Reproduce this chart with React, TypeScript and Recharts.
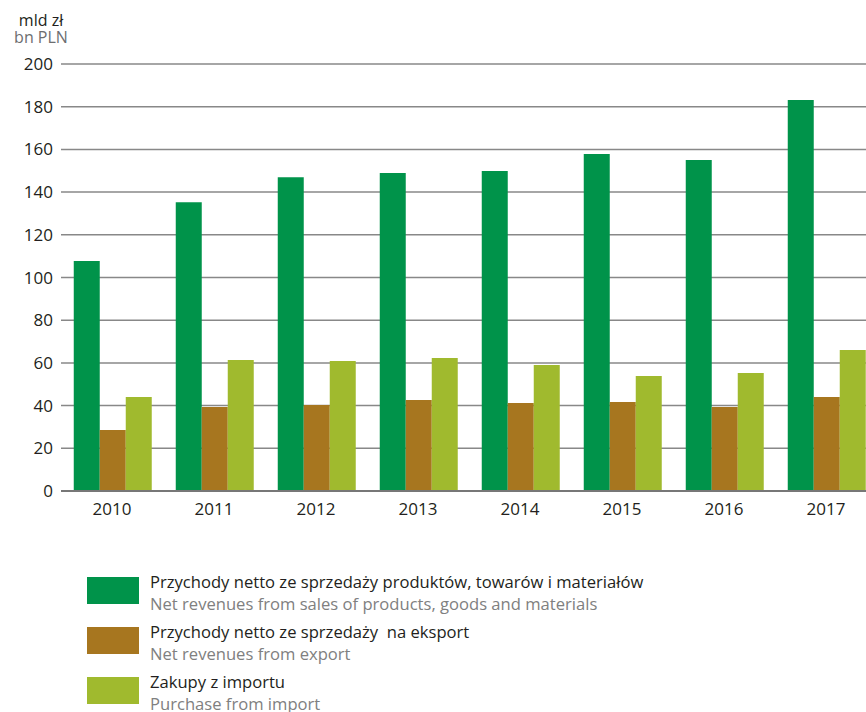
import React from "react";
import {BarChart, Bar, CartesianGrid, XAxis, YAxis} from "recharts";

const years = ["2010", "2011", "2012", "2013", "2014", "2015", "2016", "2017"];
const netRevenues = [107.7, 135.3, 147, 149, 149.9, 157.8, 155, 183.1];
const exportRevenues = [28.6, 39.3, 40.3, 42.6, 41.2, 41.7, 39.3, 44];
const importPurchases = [44, 61.4, 60.9, 62.3, 59, 53.9, 55.3, 66];
const yTicks = [0, 20, 40, 60, 80, 100, 120, 140, 160, 180, 200];

const seriesNames = [
    {key: "net", pl: "Przychody netto ze sprzedaży produktów, towarów i materiałów", en: "Net revenues from sales of products, goods and materials", color: "#00934a"},
    {key: "exp", pl: "Przychody netto ze sprzedaży  na eksport", en: "Net revenues from export", color: "#a7761f"},
    {key: "imp", pl: "Zakupy z importu", en: "Purchase from import", color: "#a0ba2e"},
];

const data = years.map((year, i) => ({
    year,
    net: netRevenues[i],
    exp: exportRevenues[i],
    imp: importPurchases[i],
}));

const font = "'Open Sans', sans-serif";

export default function App() {
    return (
        <div style={{position: "fixed", left: 0, top: 0, width: 866, height: 712, overflow: "hidden", background: "#fff", fontFamily: font}}>
            {/* unit title, two lines */}
            <div style={{position: "absolute", left: 0, top: 12, width: 82, height: 17, textAlign: "center", fontSize: 16, lineHeight: "17px", color: "#231f20"}}>mld zł</div>
            <div style={{position: "absolute", left: 0, top: 29, width: 82, height: 17, textAlign: "center", fontSize: 16, lineHeight: "17px", color: "#6d6e70"}}>bn PLN</div>
            <div style={{position: "absolute", left: 0, top: 0}}>
                <BarChart width={878} height={540} data={data} barGap={0} barCategoryGap="12.5%"
                          margin={{top: 64, right: 1, bottom: 19, left: 0}}>
                    <CartesianGrid vertical={false} stroke="#888" strokeWidth={1.5}/>
                    <XAxis dataKey="year" height={30} tickLine={false} tickSize={0} tickMargin={12}
                           axisLine={{stroke: "#777", strokeWidth: 2}}
                           tick={{fill: "#231f20", fontSize: 17, fontFamily: font}}/>
                    <YAxis width={61} domain={[0, 200]} ticks={yTicks} axisLine={false} tickLine={false}
                           tickSize={0} tickMargin={8} interval={0}
                           tick={{fill: "#231f20", fontSize: 17, fontFamily: font}}/>
                    {seriesNames.map(s => (
                        <Bar key={s.key} dataKey={s.key} fill={s.color} isAnimationActive={false}/>
                    ))}
                </BarChart>
            </div>
            <div style={{position: "absolute", left: 87, top: 571}}>
                {seriesNames.map(s => (
                    <div key={s.key} style={{position: "relative", height: 50}}>
                        <div style={{position: "absolute", left: 0, top: 6, width: 52, height: 27, background: s.color}}/>
                        <div style={{position: "absolute", left: 63, top: 0, fontSize: 16.6, lineHeight: "22px", whiteSpace: "pre"}}>
                            <div style={{color: "#231f20"}}>{s.pl}</div>
                            <div style={{color: "#808080"}}>{s.en}</div>
                        </div>
                    </div>
                ))}
            </div>
        </div>
    );
}
